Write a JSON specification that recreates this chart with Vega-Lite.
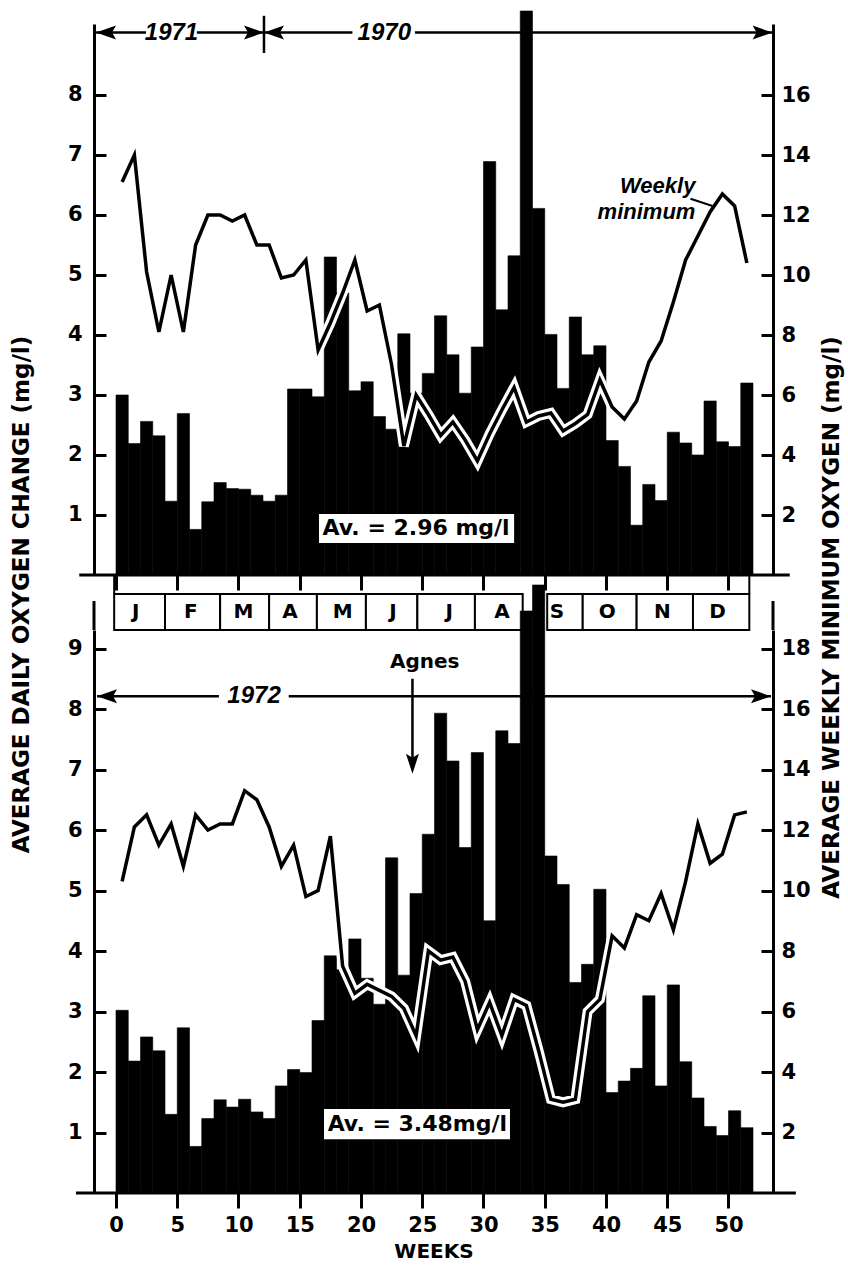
{
  "$schema": "https://vega.github.io/schema/vega-lite/v6.json",
  "background": "white",
  "padding": {"left": 10, "top": 10, "right": 5, "bottom": 0},
  "config": {
    "view": {"stroke": null},
    "font": "DejaVu Sans",
    "axis": {"grid": false, "domainColor": "black", "tickColor": "black", "labelColor": "black", "titleColor": "black", "domainWidth": 3, "tickWidth": 3, "labelFont": "DejaVu Sans", "labelFontWeight": "bold", "labelFontSize": 21, "titleFont": "DejaVu Sans", "titleFontWeight": "bold", "titleFontSize": 23}
  },
  "datasets": {
    "top": [
      {"week": 1, "chg": 3.0, "omin": 13.1}, {"week": 2, "chg": 2.19, "omin": 14.0}, {"week": 3, "chg": 2.56, "omin": 10.1}, {"week": 4, "chg": 2.32, "omin": 8.1},
      {"week": 5, "chg": 1.23, "omin": 10.0}, {"week": 6, "chg": 2.69, "omin": 8.1}, {"week": 7, "chg": 0.76, "omin": 11.0}, {"week": 8, "chg": 1.22, "omin": 12.0},
      {"week": 9, "chg": 1.54, "omin": 12.0}, {"week": 10, "chg": 1.44, "omin": 11.8}, {"week": 11, "chg": 1.43, "omin": 12.0}, {"week": 12, "chg": 1.33, "omin": 11.0},
      {"week": 13, "chg": 1.23, "omin": 11.0}, {"week": 14, "chg": 1.33, "omin": 9.9}, {"week": 15, "chg": 3.1, "omin": 10.0}, {"week": 16, "chg": 3.1, "omin": 10.5},
      {"week": 17, "chg": 2.97, "omin": 7.5}, {"week": 18, "chg": 5.3, "omin": 8.4}, {"week": 19, "chg": 4.7, "omin": 9.4}, {"week": 20, "chg": 3.07, "omin": 10.5},
      {"week": 21, "chg": 3.22, "omin": 8.8}, {"week": 22, "chg": 2.64, "omin": 9.0}, {"week": 23, "chg": 2.43, "omin": 7.0}, {"week": 24, "chg": 4.02, "omin": 4.3},
      {"week": 25, "chg": 3.03, "omin": 6.0}, {"week": 26, "chg": 3.36, "omin": 5.35}, {"week": 27, "chg": 4.32, "omin": 4.65}, {"week": 28, "chg": 3.67, "omin": 5.1},
      {"week": 29, "chg": 3.03, "omin": 4.5}, {"week": 30, "chg": 3.8, "omin": 3.8}, {"week": 31, "chg": 6.89, "omin": 4.7}, {"week": 32, "chg": 4.42, "omin": 5.5},
      {"week": 33, "chg": 5.32, "omin": 6.25}, {"week": 34, "chg": 9.4, "omin": 5.1}, {"week": 35, "chg": 6.11, "omin": 5.3}, {"week": 36, "chg": 4.01, "omin": 5.4},
      {"week": 37, "chg": 3.11, "omin": 4.8}, {"week": 38, "chg": 4.3, "omin": 5.05}, {"week": 39, "chg": 3.67, "omin": 5.35}, {"week": 40, "chg": 3.82, "omin": 6.5},
      {"week": 41, "chg": 2.24, "omin": 5.6}, {"week": 42, "chg": 1.81, "omin": 5.2}, {"week": 43, "chg": 0.83, "omin": 5.8}, {"week": 44, "chg": 1.51, "omin": 7.1},
      {"week": 45, "chg": 1.24, "omin": 7.8}, {"week": 46, "chg": 2.38, "omin": 9.1}, {"week": 47, "chg": 2.2, "omin": 10.5}, {"week": 48, "chg": 2.0, "omin": 11.3},
      {"week": 49, "chg": 2.9, "omin": 12.1}, {"week": 50, "chg": 2.22, "omin": 12.7}, {"week": 51, "chg": 2.14, "omin": 12.3}, {"week": 52, "chg": 3.2, "omin": 10.4}
    ],
    "bot": [
      {"week": 1, "chg": 3.02, "omin": 10.3}, {"week": 2, "chg": 2.18, "omin": 12.1}, {"week": 3, "chg": 2.58, "omin": 12.5}, {"week": 4, "chg": 2.35, "omin": 11.5},
      {"week": 5, "chg": 1.3, "omin": 12.2}, {"week": 6, "chg": 2.73, "omin": 10.8}, {"week": 7, "chg": 0.77, "omin": 12.5}, {"week": 8, "chg": 1.23, "omin": 12.0},
      {"week": 9, "chg": 1.54, "omin": 12.2}, {"week": 10, "chg": 1.42, "omin": 12.2}, {"week": 11, "chg": 1.55, "omin": 13.3}, {"week": 12, "chg": 1.34, "omin": 13.0},
      {"week": 13, "chg": 1.23, "omin": 12.1}, {"week": 14, "chg": 1.77, "omin": 10.8}, {"week": 15, "chg": 2.04, "omin": 11.5}, {"week": 16, "chg": 1.99, "omin": 9.8},
      {"week": 17, "chg": 2.85, "omin": 10.0}, {"week": 18, "chg": 3.92, "omin": 11.8}, {"week": 19, "chg": 3.69, "omin": 7.5}, {"week": 20, "chg": 4.2, "omin": 6.6},
      {"week": 21, "chg": 3.55, "omin": 6.9}, {"week": 22, "chg": 3.12, "omin": 6.7}, {"week": 23, "chg": 5.54, "omin": 6.5}, {"week": 24, "chg": 3.6, "omin": 6.1},
      {"week": 25, "chg": 4.95, "omin": 5.2}, {"week": 26, "chg": 5.93, "omin": 8.0}, {"week": 27, "chg": 7.93, "omin": 7.7}, {"week": 28, "chg": 7.14, "omin": 7.8},
      {"week": 29, "chg": 5.71, "omin": 7.0}, {"week": 30, "chg": 7.28, "omin": 5.4}, {"week": 31, "chg": 4.5, "omin": 6.3}, {"week": 32, "chg": 7.64, "omin": 5.2},
      {"week": 33, "chg": 7.43, "omin": 6.4}, {"week": 34, "chg": 9.62, "omin": 6.2}, {"week": 35, "chg": 10.05, "omin": 4.7}, {"week": 36, "chg": 5.57, "omin": 3.1},
      {"week": 37, "chg": 5.1, "omin": 3.0}, {"week": 38, "chg": 3.48, "omin": 3.1}, {"week": 39, "chg": 3.78, "omin": 6.0}, {"week": 40, "chg": 5.02, "omin": 6.4},
      {"week": 41, "chg": 1.66, "omin": 8.5}, {"week": 42, "chg": 1.85, "omin": 8.1}, {"week": 43, "chg": 2.06, "omin": 9.2}, {"week": 44, "chg": 3.26, "omin": 9.0},
      {"week": 45, "chg": 1.77, "omin": 9.9}, {"week": 46, "chg": 3.44, "omin": 8.7}, {"week": 47, "chg": 2.17, "omin": 10.3}, {"week": 48, "chg": 1.57, "omin": 12.2},
      {"week": 49, "chg": 1.1, "omin": 10.9}, {"week": 50, "chg": 0.95, "omin": 11.2}, {"week": 51, "chg": 1.36, "omin": 12.5}, {"week": 52, "chg": 1.08, "omin": 12.6}
    ],
    "months": [
      {"m": "J", "start": -0.15, "end": 4.0, "mid": 1.6}, {"m": "F", "start": 4.0, "end": 8.5, "mid": 6.1},
      {"m": "M", "start": 8.5, "end": 12.5, "mid": 10.4}, {"m": "A", "start": 12.5, "end": 16.4, "mid": 14.2},
      {"m": "M", "start": 16.4, "end": 20.4, "mid": 18.5}, {"m": "J", "start": 20.4, "end": 24.6, "mid": 22.6},
      {"m": "J", "start": 24.6, "end": 29.3, "mid": 27.2}, {"m": "A", "start": 29.3, "end": 33.2, "mid": 31.5},
      {"m": "S", "start": 35.2, "end": 38.1, "mid": 36.0}, {"m": "O", "start": 38.1, "end": 42.5, "mid": 40.1},
      {"m": "N", "start": 42.5, "end": 47.1, "mid": 44.6}, {"m": "D", "start": 47.1, "end": 51.7, "mid": 49.1}
    ],
    "spansTop": [
      {"x": -1.63, "x2": 2.45, "y": 9.04}, {"x": 6.6, "x2": 12.08, "y": 9.04},
      {"x": 12.08, "x2": 19.3, "y": 9.04}, {"x": 24.4, "x2": 53.6, "y": 9.04}
    ],
    "headsTop": [
      {"x": -1.63, "y": 9.04, "d": "L"}, {"x": 12.08, "y": 9.04, "d": "R"},
      {"x": 12.08, "y": 9.04, "d": "L"}, {"x": 53.6, "y": 9.04, "d": "R"}
    ],
    "yearsTop": [{"x": 4.53, "y": 9.04, "t": "1971"}, {"x": 21.9, "y": 9.04, "t": "1970"}],
    "spansBot": [{"x": -1.55, "x2": 8.4, "y": 8.21}, {"x": 14.1, "x2": 53.47, "y": 8.21}],
    "headsBot": [
      {"x": -1.55, "y": 8.21, "d": "L"}, {"x": 53.47, "y": 8.21, "d": "R"}, {"x": 24.2, "y": 6.93, "d": "D"}
    ],
    "axisExt": [{"x": -1.796, "y": 9.3058, "y2": 9.785}, {"x": 53.633, "y": 9.3058, "y2": 9.785}]
  },
  "spacing": 0,
  "bounds": "flush",
  "vconcat": [
    {
      "width": 679,
      "height": 551,
      "layer": [
        {
          "data": {"name": "top"},
          "transform": [{"calculate": "datum.week - 1", "as": "wk0"}],
          "mark": {"type": "bar", "color": "black", "stroke": "black", "strokeWidth": 0.6},
          "encoding": {
            "x": {"field": "wk0", "type": "quantitative", "scale": {"domain": [-1.796, 53.633], "nice": false, "zero": false},
                  "axis": {"values": [0, 5, 10, 15, 20, 25, 30, 35, 40, 45, 50], "tickSize": 15, "labels": false, "domain": false, "title": null}},
            "x2": {"field": "week"},
            "y": {"field": "chg", "type": "quantitative", "scale": {"domain": [0, 9.1833], "nice": false},
                  "axis": {"orient": "left", "values": [1, 2, 3, 4, 5, 6, 7, 8], "tickSize": -12, "labelPadding": 24,
                           "title": "AVERAGE DAILY OXYGEN CHANGE (mg/l)", "titleAngle": 270, "titleAlign": "center", "titleBaseline": "middle", "titleX": -73, "titleY": 570}},
            "y2": {"datum": 0}
          }
        },
        {
          "data": {"name": "top"},
          "transform": [{"calculate": "datum.week - 0.5", "as": "wkm"}],
          "encoding": {
            "x": {"field": "wkm", "type": "quantitative"},
            "y": {"field": "omin", "type": "quantitative", "scale": {"domain": [0, 18.3667], "nice": false},
                  "axis": {"orient": "right", "values": [2, 4, 6, 8, 10, 12, 14, 16], "tickSize": -12, "labelPadding": 20,
                           "title": "AVERAGE WEEKLY MINIMUM OXYGEN (mg/l)", "titleAngle": 270, "titleAlign": "center", "titleBaseline": "middle", "titleX": 58, "titleY": 593}}
          },
          "layer": [
            {"mark": {"type": "line", "color": "white", "strokeWidth": 10}},
            {"mark": {"type": "line", "color": "black", "strokeWidth": 3.5}}
          ]
        },
        {
          "layer": [
            {
              "data": {"values": [{"x": -3.0, "x2": 55.0, "y": 0}]},
              "mark": {"type": "rule", "color": "black", "strokeWidth": 3},
              "encoding": {
                "x": {"field": "x", "type": "quantitative"}, "x2": {"field": "x2"},
                "y": {"field": "y", "type": "quantitative", "scale": {"domain": [0, 9.1833], "nice": false}, "axis": null}
              }
            },
            {
              "data": {"name": "spansTop"},
              "mark": {"type": "rule", "color": "black", "strokeWidth": 2.5},
              "encoding": {
                "x": {"field": "x", "type": "quantitative"}, "x2": {"field": "x2"},
                "y": {"field": "y", "type": "quantitative", "scale": {"domain": [0, 9.1833], "nice": false}, "axis": null}
              }
            },
            {
              "data": {"values": [{"x": 12.08, "y": 8.7, "y2": 9.32}]},
              "mark": {"type": "rule", "color": "black", "strokeWidth": 2.5},
              "encoding": {
                "x": {"field": "x", "type": "quantitative"},
                "y": {"field": "y", "type": "quantitative", "scale": {"domain": [0, 9.1833], "nice": false}, "axis": null}, "y2": {"field": "y2"}
              }
            },
            {
              "data": {"name": "headsTop"},
              "mark": {"type": "point", "filled": true, "color": "black", "opacity": 1, "size": 400, "strokeWidth": 0},
              "encoding": {
                "x": {"field": "x", "type": "quantitative"},
                "y": {"field": "y", "type": "quantitative", "scale": {"domain": [0, 9.1833], "nice": false}, "axis": null},
                "shape": {"field": "d", "type": "nominal", "legend": null,
                          "scale": {"domain": ["L", "R", "D"], "range": ["M0,0L2,-0.7L1.6,0L2,0.7Z", "M0,0L-2,-0.7L-1.6,0L-2,0.7Z", "M0,0L-0.65,-2L0,-1.6L0.65,-2Z"]}}
              }
            },
            {
              "data": {"name": "yearsTop"},
              "mark": {"type": "text", "font": "Liberation Sans", "fontStyle": "italic", "fontWeight": "bold", "fontSize": 24, "align": "center", "baseline": "middle", "color": "black"},
              "encoding": {
                "x": {"field": "x", "type": "quantitative"},
                "y": {"field": "y", "type": "quantitative", "scale": {"domain": [0, 9.1833], "nice": false}, "axis": null},
                "text": {"field": "t"}
              }
            },
            {
              "data": {"values": [{"x": 47.3, "y": 6.48, "t": "Weekly"}, {"x": 47.3, "y": 6.05, "t": "minimum"}]},
              "mark": {"type": "text", "font": "Liberation Sans", "fontStyle": "italic", "fontWeight": "bold", "fontSize": 22, "align": "right", "baseline": "middle", "color": "black"},
              "encoding": {
                "x": {"field": "x", "type": "quantitative"},
                "y": {"field": "y", "type": "quantitative", "scale": {"domain": [0, 9.1833], "nice": false}, "axis": null},
                "text": {"field": "t"}
              }
            },
            {
              "data": {"values": [{"x": 46.9, "y": 6.27, "x2": 48.7, "y2": 6.15}]},
              "mark": {"type": "rule", "color": "black", "strokeWidth": 2},
              "encoding": {
                "x": {"field": "x", "type": "quantitative"}, "x2": {"field": "x2"},
                "y": {"field": "y", "type": "quantitative", "scale": {"domain": [0, 9.1833], "nice": false}, "axis": null}, "y2": {"field": "y2"}
              }
            },
            {
              "data": {"values": [{"x": 16.57, "x2": 32.5, "y": 0.533, "y2": 1.017}]},
              "mark": {"type": "rect", "fill": "white"},
              "encoding": {
                "x": {"field": "x", "type": "quantitative"}, "x2": {"field": "x2"},
                "y": {"field": "y", "type": "quantitative", "scale": {"domain": [0, 9.1833], "nice": false}, "axis": null}, "y2": {"field": "y2"}
              }
            },
            {
              "data": {"values": [{"x": 24.5, "y": 0.775, "t": "Av. = 2.96 mg/l"}]},
              "mark": {"type": "text", "fontWeight": "bold", "fontSize": 22, "align": "center", "baseline": "middle", "color": "black"},
              "encoding": {
                "x": {"field": "x", "type": "quantitative"},
                "y": {"field": "y", "type": "quantitative", "scale": {"domain": [0, 9.1833], "nice": false}, "axis": null},
                "text": {"field": "t"}
              }
            }
          ]
        }
      ],
      "resolve": {"scale": {"y": "independent"}, "axis": {"y": "independent"}}
    },
    {
      "width": 679,
      "height": 55,
      "layer": [
        {
          "data": {"name": "months"},
          "mark": {"type": "rect", "fill": "white", "stroke": "black", "strokeWidth": 2},
          "encoding": {
            "x": {"field": "start", "type": "quantitative", "scale": {"domain": [-1.796, 53.633], "nice": false, "zero": false}, "axis": null},
            "x2": {"field": "end"},
            "y": {"datum": 0, "type": "quantitative", "scale": {"domain": [0, 1.5278], "nice": false}, "axis": null},
            "y2": {"datum": 1}
          }
        },
        {
          "data": {"name": "months"},
          "mark": {"type": "text", "fontWeight": "bold", "fontSize": 20, "align": "center", "baseline": "middle", "color": "black"},
          "encoding": {
            "x": {"field": "mid", "type": "quantitative"},
            "y": {"datum": 0.5, "type": "quantitative"},
            "text": {"field": "m"}
          }
        },
        {
          "data": {"values": [{"x": -0.15}, {"x": 51.7}]},
          "mark": {"type": "rule", "color": "black", "strokeWidth": 2},
          "encoding": {
            "x": {"field": "x", "type": "quantitative"},
            "y": {"datum": 1, "type": "quantitative"},
            "y2": {"datum": 1.5278}
          }
        }
      ]
    },
    {
      "width": 679,
      "height": 563,
      "layer": [
        {
          "data": {"name": "bot"},
          "transform": [{"calculate": "datum.week - 1", "as": "wk0"}],
          "mark": {"type": "bar", "color": "black", "stroke": "black", "strokeWidth": 0.6},
          "encoding": {
            "x": {"field": "wk0", "type": "quantitative", "scale": {"domain": [-1.796, 53.633], "nice": false, "zero": false},
                  "axis": {"values": [0, 5, 10, 15, 20, 25, 30, 35, 40, 45, 50], "tickSize": 15, "labelPadding": 6, "domain": false, "title": "WEEKS", "titleFontSize": 20, "titlePadding": 6}},
            "x2": {"field": "week"},
            "y": {"field": "chg", "type": "quantitative", "scale": {"domain": [0, 9.3058], "nice": false},
                  "axis": {"orient": "left", "values": [1, 2, 3, 4, 5, 6, 7, 8, 9], "tickSize": -12, "labelPadding": 24, "title": null}},
            "y2": {"datum": 0}
          }
        },
        {
          "data": {"name": "bot"},
          "transform": [{"calculate": "datum.week - 0.5", "as": "wkm"}],
          "encoding": {
            "x": {"field": "wkm", "type": "quantitative"},
            "y": {"field": "omin", "type": "quantitative", "scale": {"domain": [0, 18.6116], "nice": false},
                  "axis": {"orient": "right", "values": [2, 4, 6, 8, 10, 12, 14, 16, 18], "tickSize": -12, "labelPadding": 20, "title": null}}
          },
          "layer": [
            {"mark": {"type": "line", "color": "white", "strokeWidth": 10}},
            {"mark": {"type": "line", "color": "black", "strokeWidth": 3.5}}
          ]
        },
        {
          "layer": [
            {
              "data": {"values": [{"x": -3.27, "x2": 55.5, "y": 0}]},
              "mark": {"type": "rule", "color": "black", "strokeWidth": 3},
              "encoding": {
                "x": {"field": "x", "type": "quantitative"}, "x2": {"field": "x2"},
                "y": {"field": "y", "type": "quantitative", "scale": {"domain": [0, 9.3058], "nice": false}, "axis": null}
              }
            },
            {
              "data": {"name": "axisExt"},
              "mark": {"type": "rule", "color": "black", "strokeWidth": 3},
              "encoding": {
                "x": {"field": "x", "type": "quantitative"},
                "y": {"field": "y", "type": "quantitative", "scale": {"domain": [0, 9.3058], "nice": false}, "axis": null}, "y2": {"field": "y2"}
              }
            },
            {
              "data": {"name": "spansBot"},
              "mark": {"type": "rule", "color": "black", "strokeWidth": 2.5},
              "encoding": {
                "x": {"field": "x", "type": "quantitative"}, "x2": {"field": "x2"},
                "y": {"field": "y", "type": "quantitative", "scale": {"domain": [0, 9.3058], "nice": false}, "axis": null}
              }
            },
            {
              "data": {"values": [{"x": 24.2, "y": 8.5, "y2": 7.15}]},
              "mark": {"type": "rule", "color": "black", "strokeWidth": 2.5},
              "encoding": {
                "x": {"field": "x", "type": "quantitative"},
                "y": {"field": "y", "type": "quantitative", "scale": {"domain": [0, 9.3058], "nice": false}, "axis": null}, "y2": {"field": "y2"}
              }
            },
            {
              "data": {"name": "headsBot"},
              "mark": {"type": "point", "filled": true, "color": "black", "opacity": 1, "size": 400, "strokeWidth": 0},
              "encoding": {
                "x": {"field": "x", "type": "quantitative"},
                "y": {"field": "y", "type": "quantitative", "scale": {"domain": [0, 9.3058], "nice": false}, "axis": null},
                "shape": {"field": "d", "type": "nominal", "legend": null,
                          "scale": {"domain": ["L", "R", "D"], "range": ["M0,0L2,-0.7L1.6,0L2,0.7Z", "M0,0L-2,-0.7L-1.6,0L-2,0.7Z", "M0,0L-0.65,-2L0,-1.6L0.65,-2Z"]}}
              }
            },
            {
              "data": {"values": [{"x": 11.27, "y": 8.21, "t": "1972"}]},
              "mark": {"type": "text", "font": "Liberation Sans", "fontStyle": "italic", "fontWeight": "bold", "fontSize": 24, "align": "center", "baseline": "middle", "color": "black"},
              "encoding": {
                "x": {"field": "x", "type": "quantitative"},
                "y": {"field": "y", "type": "quantitative", "scale": {"domain": [0, 9.3058], "nice": false}, "axis": null},
                "text": {"field": "t"}
              }
            },
            {
              "data": {"values": [{"x": 25.2, "y": 8.78, "t": "Agnes"}]},
              "mark": {"type": "text", "fontWeight": "bold", "fontSize": 20, "align": "center", "baseline": "middle", "color": "black"},
              "encoding": {
                "x": {"field": "x", "type": "quantitative"},
                "y": {"field": "y", "type": "quantitative", "scale": {"domain": [0, 9.3058], "nice": false}, "axis": null},
                "text": {"field": "t"}
              }
            },
            {
              "data": {"values": [{"x": 16.98, "x2": 32.16, "y": 0.89, "y2": 1.39}]},
              "mark": {"type": "rect", "fill": "white"},
              "encoding": {
                "x": {"field": "x", "type": "quantitative"}, "x2": {"field": "x2"},
                "y": {"field": "y", "type": "quantitative", "scale": {"domain": [0, 9.3058], "nice": false}, "axis": null}, "y2": {"field": "y2"}
              }
            },
            {
              "data": {"values": [{"x": 24.6, "y": 1.14, "t": "Av. = 3.48mg/l"}]},
              "mark": {"type": "text", "fontWeight": "bold", "fontSize": 22, "align": "center", "baseline": "middle", "color": "black"},
              "encoding": {
                "x": {"field": "x", "type": "quantitative"},
                "y": {"field": "y", "type": "quantitative", "scale": {"domain": [0, 9.3058], "nice": false}, "axis": null},
                "text": {"field": "t"}
              }
            }
          ]
        }
      ],
      "resolve": {"scale": {"y": "independent"}, "axis": {"y": "independent"}}
    }
  ]
}
